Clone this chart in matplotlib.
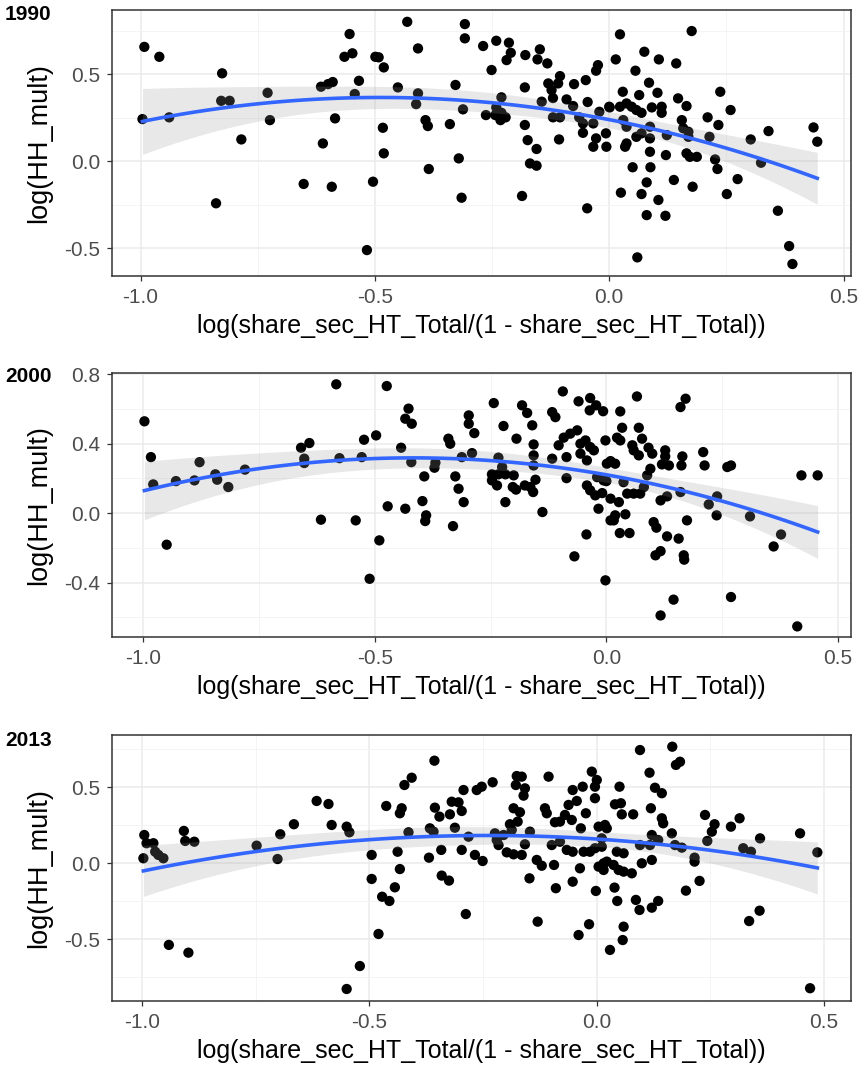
import numpy as np
import matplotlib
matplotlib.use('Agg')
import matplotlib.pyplot as plt
from matplotlib.ticker import MultipleLocator, FormatStrFormatter

plt.rcParams['font.family'] = ['Liberation Sans', 'DejaVu Sans']
plt.rcParams['axes.unicode_minus'] = False

years = ['1990', '2000', '2013']

x_1990 = [-0.992, -0.960, -0.826, -0.996, -0.939, -0.828, -0.810, -0.785, -0.839, -0.729,
          -0.724, -0.652, -0.592, -0.611, -0.585, -0.615, -0.600, -0.590, -0.565, -0.548,
          -0.554, -0.534, -0.543, -0.431, -0.308, -0.308, -0.408, -0.499, -0.492, -0.481,
          -0.451, -0.408, -0.412, -0.392, -0.387, -0.340, -0.328, -0.312, -0.483, -0.481,
          -0.504, -0.517, -0.385, -0.321, -0.315, -0.269, -0.241, -0.214, -0.210, -0.219,
          -0.251, -0.179, -0.148, -0.153, -0.132, -0.180, -0.230, -0.241, -0.230, -0.263,
          -0.243, -0.232, -0.221, -0.180, -0.174, -0.155, -0.169, -0.155, -0.186, -0.130,
          -0.123, -0.105, -0.109, -0.120, -0.144, -0.091, -0.077, -0.120, -0.105, -0.107,
          -0.075, -0.050, -0.028, -0.024, -0.046, -0.064, -0.056, -0.056, -0.034, -0.021,
          -0.028, -0.034, -0.007, -0.006, -0.047, 0.000, 0.023, 0.176, 0.014, 0.075,
          0.106, 0.143, 0.056, 0.085, 0.029, 0.064, 0.103, 0.147, 0.165, 0.001,
          0.023, 0.037, 0.048, 0.058, 0.069, 0.091, 0.112, 0.112, 0.030, 0.037,
          0.037, 0.034, 0.058, 0.069, 0.087, 0.087, 0.087, 0.123, 0.121, 0.155,
          0.158, 0.169, 0.165, 0.172, 0.187, 0.169, 0.050, 0.088, 0.080, 0.025,
          0.069, 0.105, 0.080, 0.120, 0.060, 0.138, 0.178, 0.210, 0.233, 0.214,
          0.237, 0.259, 0.226, 0.231, 0.274, 0.251, 0.302, 0.340, 0.324, 0.360,
          0.384, 0.391, 0.436, 0.444]
y_1990 = [0.658, 0.601, 0.506, 0.243, 0.253, 0.348, 0.348, 0.126, -0.241, 0.394,
          0.237, -0.130, -0.146, 0.103, 0.247, 0.429, 0.444, 0.456, 0.601, 0.621,
          0.732, 0.463, 0.387, 0.802, 0.789, 0.707, 0.649, 0.601, 0.598, 0.540,
          0.425, 0.391, 0.329, 0.237, 0.203, 0.214, 0.439, 0.299, 0.193, 0.046,
          -0.117, -0.510, -0.044, 0.017, -0.209, 0.663, 0.693, 0.682, 0.624, 0.582,
          0.525, 0.611, 0.644, 0.586, 0.563, 0.425, 0.368, 0.310, 0.279, 0.266,
          0.266, 0.237, 0.253, 0.209, 0.122, 0.071, -0.012, -0.025, -0.199, 0.448,
          0.410, 0.490, 0.448, 0.364, 0.343, 0.356, 0.318, 0.253, 0.253, 0.126,
          0.444, 0.467, 0.521, 0.553, 0.341, 0.253, 0.218, 0.164, 0.218, 0.285,
          0.132, 0.084, 0.161, 0.084, -0.270, 0.314, 0.730, 0.749, 0.586, 0.630,
          0.586, 0.563, 0.521, 0.452, 0.400, 0.381, 0.394, 0.362, 0.318, 0.310,
          0.314, 0.333, 0.314, 0.295, 0.279, 0.310, 0.314, 0.279, 0.237, 0.199,
          0.103, 0.084, 0.141, 0.161, 0.199, 0.132, 0.055, 0.151, 0.036, 0.237,
          0.190, 0.170, 0.046, 0.026, 0.026, 0.141, -0.034, -0.034, -0.121, -0.180,
          -0.188, -0.222, -0.309, -0.313, -0.552, -0.107, -0.146, 0.253, 0.209, 0.141,
          0.400, 0.295, 0.011, -0.044, -0.102, -0.188, 0.126, 0.174, -0.008, -0.284,
          -0.487, -0.590, 0.195, 0.113]

x_2000 = [-0.997, -0.983, -0.978, -0.929, -0.889, -0.878, -0.844, -0.840, -0.816, -0.780,
          -0.949, -0.583, -0.659, -0.641, -0.652, -0.652, -0.576, -0.616, -0.541, -0.474,
          -0.523, -0.497, -0.528, -0.490, -0.511, -0.472, -0.434, -0.427, -0.434, -0.420,
          -0.443, -0.421, -0.393, -0.369, -0.371, -0.397, -0.389, -0.391, -0.341, -0.337,
          -0.326, -0.319, -0.308, -0.331, -0.297, -0.297, -0.285, -0.312, -0.290, -0.243,
          -0.222, -0.194, -0.233, -0.225, -0.247, -0.233, -0.247, -0.236, -0.218, -0.200,
          -0.202, -0.195, -0.218, -0.182, -0.171, -0.160, -0.157, -0.157, -0.157, -0.176,
          -0.164, -0.153, -0.158, -0.138, -0.117, -0.110, -0.094, -0.117, -0.103, -0.092,
          -0.078, -0.063, -0.086, -0.086, -0.060, -0.035, -0.036, -0.022, -0.007, -0.056,
          -0.045, -0.035, -0.056, -0.042, -0.027, -0.002, 0.001, -0.020, -0.006, -0.042,
          -0.035, -0.024, -0.009, -0.017, 0.009, -0.043, -0.069, -0.002, 0.066, 0.160,
          0.171, 0.030, 0.034, 0.070, 0.023, 0.030, 0.077, 0.056, 0.059, 0.070,
          0.091, 0.099, 0.009, 0.019, 0.127, 0.127, 0.120, 0.135, 0.164, 0.162,
          0.095, 0.088, 0.209, 0.212, 0.261, 0.269, 0.000, 0.037, 0.045, 0.059,
          0.073, 0.081, 0.009, 0.027, 0.019, 0.016, 0.041, 0.029, 0.050, 0.117,
          0.131, 0.160, 0.102, 0.108, 0.131, 0.156, 0.174, 0.106, 0.117, 0.167,
          0.168, 0.145, 0.117, 0.221, 0.239, 0.238, 0.269, 0.310, 0.377, 0.361,
          0.421, 0.456, 0.412]
y_2000 = [0.528, 0.322, 0.165, 0.184, 0.188, 0.293, 0.223, 0.192, 0.150, 0.250,
          -0.182, 0.741, 0.376, 0.403, 0.313, 0.288, 0.316, -0.038, -0.042, 0.731,
          0.422, 0.447, 0.322, -0.157, -0.378, 0.039, 0.025, 0.601, 0.543, 0.514,
          0.376, 0.293, 0.211, 0.290, 0.261, 0.069, -0.013, -0.046, 0.428, 0.399,
          0.211, 0.140, 0.063, -0.075, 0.562, 0.514, 0.460, 0.322, 0.345, 0.633,
          0.501, 0.428, 0.319, 0.265, 0.223, 0.223, 0.188, 0.159, 0.223, 0.217,
          0.150, 0.135, 0.063, 0.620, 0.576, 0.505, 0.395, 0.332, 0.274, 0.159,
          0.150, 0.192, 0.121, 0.006, 0.581, 0.552, 0.700, 0.313, 0.390, 0.434,
          0.457, 0.476, 0.322, 0.201, 0.643, 0.662, 0.591, 0.620, 0.586, 0.399,
          0.418, 0.380, 0.342, 0.303, 0.361, 0.418, 0.284, 0.207, 0.188, 0.159,
          0.131, 0.102, 0.115, 0.025, -0.042, -0.123, -0.249, -0.387, 0.671, 0.610,
          0.658, 0.585, 0.491, 0.491, 0.434, 0.418, 0.428, 0.390, 0.361, 0.332,
          0.376, 0.342, 0.299, 0.284, 0.361, 0.326, 0.280, 0.274, 0.326, 0.274,
          0.255, 0.217, 0.351, 0.274, 0.265, 0.274, 0.184, 0.178, 0.112, 0.112,
          0.112, 0.150, 0.083, 0.063, -0.013, -0.042, -0.007, -0.115, -0.115, 0.073,
          0.096, 0.121, -0.052, -0.084, -0.134, -0.147, -0.042, -0.243, -0.219, -0.243,
          -0.268, -0.498, -0.589, 0.050, 0.096, -0.013, -0.483, -0.019, -0.123, -0.192,
          0.217, 0.217, -0.652]

x_2013 = [-0.995, -0.990, -0.975, -0.997, -0.971, -0.964, -0.953, -0.908, -0.905, -0.885,
          -0.941, -0.898, -0.748, -0.702, -0.696, -0.666, -0.616, -0.590, -0.583, -0.550,
          -0.544, -0.521, -0.550, -0.357, -0.423, -0.407, -0.463, -0.429, -0.433, -0.414,
          -0.356, -0.346, -0.367, -0.359, -0.323, -0.319, -0.304, -0.297, -0.312, -0.293,
          -0.264, -0.253, -0.229, -0.282, -0.495, -0.495, -0.438, -0.433, -0.444, -0.472,
          -0.456, -0.480, -0.369, -0.342, -0.341, -0.325, -0.297, -0.268, -0.251, -0.288,
          -0.176, -0.165, -0.178, -0.158, -0.161, -0.106, -0.183, -0.169, -0.174, -0.191,
          -0.224, -0.220, -0.216, -0.205, -0.187, -0.198, -0.183, -0.165, -0.158, -0.147,
          -0.148, -0.132, -0.121, -0.130, -0.114, -0.110, -0.092, -0.081, -0.099, -0.081,
          -0.094, -0.090, -0.066, -0.053, -0.070, -0.062, -0.053, -0.044, -0.055, -0.035,
          -0.053, -0.037, -0.040, -0.017, -0.031, -0.011, 0.000, -0.004, -0.004, -0.024,
          0.004, 0.018, -0.029, -0.015, -0.004, 0.011, 0.004, 0.015, 0.022, -0.002,
          0.029, 0.095, 0.166, 0.174, 0.183, 0.116, 0.050, 0.128, 0.143, 0.040,
          0.053, 0.055, 0.080, 0.119, 0.143, 0.146, 0.022, 0.165, 0.121, 0.135,
          0.117, 0.095, 0.011, 0.044, 0.059, 0.015, 0.037, 0.048, 0.059, 0.077,
          0.099, 0.121, 0.039, 0.045, 0.086, 0.094, 0.121, 0.135, 0.059, 0.057,
          0.172, 0.187, 0.215, 0.215, 0.226, 0.196, 0.238, 0.259, 0.253, 0.243,
          0.295, 0.314, 0.322, 0.339, 0.359, 0.447, 0.485, 0.335, 0.358, 0.469]
y_2013 = [0.186, 0.132, 0.132, 0.033, 0.076, 0.055, 0.033, 0.213, 0.147, 0.142,
          -0.537, -0.588, 0.116, 0.028, 0.191, 0.257, 0.410, 0.390, 0.252, 0.241,
          0.204, -0.676, -0.827, 0.675, 0.515, 0.563, 0.377, 0.362, 0.329, 0.204,
          0.366, 0.307, 0.230, 0.208, 0.322, 0.405, 0.401, 0.344, 0.234, 0.482,
          0.482, 0.504, 0.533, 0.175, 0.055, -0.103, 0.076, -0.038, -0.158, -0.220,
          -0.248, -0.465, 0.037, 0.088, -0.081, -0.114, 0.088, 0.055, 0.015, -0.334,
          0.574, 0.570, 0.515, 0.493, 0.445, 0.570, 0.362, 0.336, 0.274, 0.257,
          0.197, 0.153, 0.120, 0.186, 0.219, 0.072, 0.059, 0.055, 0.125, 0.208,
          -0.099, 0.022, -0.016, -0.384, 0.362, 0.329, 0.270, 0.274, 0.120, 0.142,
          -0.011, -0.164, 0.088, 0.076, 0.318, 0.384, 0.482, 0.410, 0.285, 0.230,
          -0.121, -0.033, -0.472, -0.401, 0.504, 0.603, 0.548, 0.504, 0.428, 0.329,
          0.241, 0.252, 0.076, 0.076, 0.099, 0.109, -0.022, -0.044, 0.011, -0.182,
          -0.570, 0.745, 0.767, 0.647, 0.668, 0.596, 0.504, 0.497, 0.461, 0.388,
          0.395, 0.322, 0.322, 0.362, 0.296, 0.263, 0.230, 0.197, 0.186, 0.153,
          0.120, 0.120, 0.164, 0.076, 0.066, 0.000, -0.011, -0.044, -0.055, -0.066,
          0.000, 0.022, -0.160, -0.248, -0.241, -0.307, -0.292, -0.248, -0.417, -0.505,
          0.120, 0.103, 0.037, 0.011, -0.116, -0.180, 0.318, 0.257, 0.208, 0.147,
          0.241, 0.296, 0.099, 0.076, 0.164, 0.197, 0.072, -0.380, -0.312, -0.822]

xs = [x_1990, x_2000, x_2013]
ys = [y_1990, y_2000, y_2013]
xlims = [(-1.061, 0.516), (-1.067, 0.528), (-1.066, 0.559)]
ylims = [(-0.659, 0.870), (-0.713, 0.806), (-0.906, 0.844)]
ymajor = [0.5, 0.4, 0.5]

# axes boxes in pixels: top, bottom
boxes = [(10, 276), (373, 637), (735, 1001)]
tag_y = [15, 376, 741]

W, H = 861, 1072


def quad_fit(x, y, n=80):
    # y ~ poly(x, 2) with 95% band
    x = np.asarray(x)
    y = np.asarray(y)
    X = np.column_stack([np.ones_like(x), x, x ** 2])
    beta, _, _, _ = np.linalg.lstsq(X, y, rcond=None)
    resid = y - X @ beta
    s2 = resid @ resid / (len(x) - 3)
    cov = s2 * np.linalg.inv(X.T @ X)
    xg = np.linspace(x.min(), x.max(), n)
    Xg = np.column_stack([np.ones_like(xg), xg, xg ** 2])
    fit = Xg @ beta
    se = np.sqrt(np.einsum('ij,jk,ik->i', Xg, cov, Xg))
    return xg, fit, fit - 1.97 * se, fit + 1.97 * se


fig = plt.figure(figsize=(W / 100, H / 100), dpi=100)

for i in range(3):
    top, bot = boxes[i]
    ax = fig.add_axes([112 / W, 1 - bot / H, 739 / W, (bot - top) / H])
    ax.set_xlim(*xlims[i])
    ax.set_ylim(*ylims[i])

    ax.xaxis.set_major_locator(MultipleLocator(0.5))
    ax.xaxis.set_minor_locator(MultipleLocator(0.25))
    ax.yaxis.set_major_locator(MultipleLocator(ymajor[i]))
    ax.yaxis.set_minor_locator(MultipleLocator(ymajor[i] / 2))
    ax.xaxis.set_major_formatter(FormatStrFormatter('%.1f'))
    ax.yaxis.set_major_formatter(FormatStrFormatter('%.1f'))

    ax.grid(True, which='major', color='#EBEBEB', lw=1.1, zorder=0)
    ax.grid(True, which='minor', color='#F2F2F2', lw=0.6, zorder=0)
    ax.set_axisbelow(True)
    ax.tick_params(which='minor', length=0)
    ax.tick_params(which='major', length=3.5, width=0.9, color='#333333',
                   labelsize=15, labelcolor='#4D4D4D', pad=5)
    for sp in ax.spines.values():
        sp.set_color('#333333')
        sp.set_linewidth(1.1)

    ax.scatter(xs[i], ys[i], s=55, color='black', edgecolors='none', zorder=3)

    xg, fit, lo, hi = quad_fit(xs[i], ys[i])
    ax.fill_between(xg, lo, hi, color='#999999', alpha=0.22, lw=0, zorder=4)
    ax.plot(xg, fit, color='#3366FF', lw=2.6, zorder=5)

    ax.set_xlabel('log(share_sec_HT_Total/(1 - share_sec_HT_Total))', fontsize=18, labelpad=5)
    ax.set_ylabel('log(HH_mult)', fontsize=19.5, labelpad=9)

    fig.text(5 / W, 1 - tag_y[i] / H, years[i], fontsize=15, fontweight='bold',
             ha='left', va='center')

fig.savefig('out.png', dpi=100)
plt.close(fig)
